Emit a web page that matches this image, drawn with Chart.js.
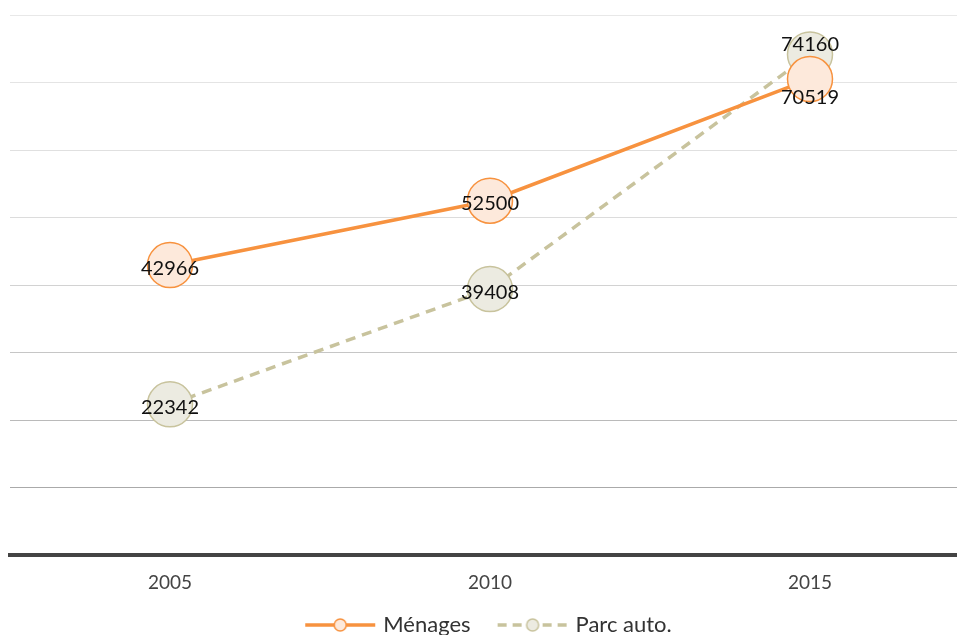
<!DOCTYPE html>
<html>
<head>
<meta charset="utf-8">
<script src="https://cdn.jsdelivr.net/npm/chart.js@4.4.0/dist/chart.umd.min.js"></script>
<style>
  html, body { margin: 0; padding: 0; overflow: hidden; background: #fff; }
  canvas { display: block; }
</style>
</head>
<body>
<canvas id="myChart" width="980" height="656"></canvas>
<script>
// données du graphique
const years = ['2005', '2010', '2015'];
const menages = [42966, 52500, 70519];
const parcAuto = [22342, 39408, 74160];

const FONT = 'Lato, "Noto Sans", sans-serif';

// couleurs des séries
const orange = '#f7923f';
const orangeFill = '#fde9db';
const beige = '#c8c39d';
const beigeFill = '#ecebe1';

// icône de légende : trait + petit cercle
function legendIcon(color, fill, dashed) {
    const c = document.createElement('canvas');
    c.width = 72;
    c.height = 20;
    const g = c.getContext('2d');
    g.strokeStyle = color;
    g.lineWidth = 3.5;
    if (dashed) g.setLineDash([9, 6]);
    g.beginPath();
    g.moveTo(1, 10);
    g.lineTo(71, 10);
    g.stroke();
    g.setLineDash([]);
    g.beginPath();
    g.arc(36, 10, 6, 0, Math.PI * 2);
    g.fillStyle = fill;
    g.fill();
    g.lineWidth = 1.5;
    g.stroke();
    return c;
}

// gris des lignes de grille : plus foncé vers le bas
function gridColor(ctx) {
    const v = ctx.tick ? ctx.tick.value : 0;
    const shades = ['#9a9a9a', '#aaaaaa', '#bababa', '#c6c6c6', '#d2d2d2', '#dcdcdc', '#e0e0e0', '#e4e4e4', '#e8e8e8'];
    return shades[Math.round(v / 10000)] || '#e8e8e8';
}

// étiquettes de valeurs sur les points
const valueLabels = {
    id: 'valueLabels',
    afterDatasetsDraw(chart) {
        const ctx = chart.ctx;
        const metas = chart.data.datasets.map((d, i) => chart.getDatasetMeta(i));
        ctx.save();
        ctx.font = '20px ' + FONT;
        ctx.fillStyle = '#111';
        ctx.textAlign = 'center';
        ctx.textBaseline = 'middle';
        metas.forEach((meta, di) => {
            meta.data.forEach((pt, i) => {
                let dy = 3;
                // si les deux points se chevauchent, on écarte les étiquettes
                const other = metas[1 - di].data[i];
                if (other && Math.abs(other.y - pt.y) < 40) {
                    dy = pt.y < other.y ? -10 : 19;
                }
                const val = chart.data.datasets[di].data[i];
                ctx.fillText(String(val), pt.x, pt.y + dy);
            });
        });
        ctx.restore();
    }
};

// remonte un peu la légende vers l'axe
const legendShift = {
    id: 'legendShift',
    afterLayout(chart) {
        if (chart.legend) {
            chart.legend.top -= 10;
            chart.legend.bottom -= 10;
        }
    }
};

const ctx = document.getElementById('myChart').getContext('2d');

const myChart = new Chart(ctx, {
    type: 'line',
    data: {
        labels: years,
        datasets: [
            {
                label: 'Ménages',
                data: menages,
                borderColor: orange,
                backgroundColor: orangeFill,
                borderWidth: 3.5,
                pointRadius: 22.5,
                pointHoverRadius: 22.5,
                pointBorderWidth: 1.5,
                pointBackgroundColor: orangeFill,
                pointBorderColor: orange,
                fill: false,
                tension: 0,
                legendIcon: legendIcon(orange, orangeFill, false),
            },
            {
                label: 'Parc auto.',
                data: parcAuto,
                borderColor: beige,
                backgroundColor: beigeFill,
                borderWidth: 3.5,
                borderDash: [10, 7],
                pointRadius: 22.5,
                pointHoverRadius: 22.5,
                pointBorderWidth: 1.5,
                pointBackgroundColor: beigeFill,
                pointBorderColor: beige,
                fill: false,
                tension: 0,
                legendIcon: legendIcon(beige, beigeFill, true),
            },
        ],
    },
    options: {
        responsive: false,
        animation: false,
        layout: { autoPadding: false, padding: { left: 10, right: 10, top: 15, bottom: 0 } },
        scales: {
            x: {
                offset: true,
                grid: { display: false, drawTicks: false },
                border: { display: true, color: '#444444', width: 4 },
                ticks: {
                    color: '#444444',
                    padding: 16,
                    font: { family: FONT, size: 19 },
                },
                afterFit(scale) {
                    scale.height -= 16;
                },
            },
            y: {
                min: 0,
                max: 80000,
                ticks: { display: false, stepSize: 10000 },
                grid: { color: gridColor, lineWidth: 1, drawTicks: false },
                border: { display: false },
                afterFit(scale) {
                    scale.width = 0;
                },
            },
        },
        plugins: {
            tooltip: { enabled: false },
            legend: {
                position: 'bottom',
                labels: {
                    usePointStyle: true,
                    pointStyleWidth: 64,
                    padding: 30,
                    color: '#333333',
                    font: { family: FONT, size: 22 },
                    generateLabels(chart) {
                        const items = Chart.defaults.plugins.legend.labels.generateLabels(chart);
                        items.forEach((it) => {
                            it.pointStyle = chart.data.datasets[it.datasetIndex].legendIcon;
                        });
                        return items;
                    },
                },
            },
        },
    },
    plugins: [valueLabels, legendShift],
});
</script>
</body>
</html>
